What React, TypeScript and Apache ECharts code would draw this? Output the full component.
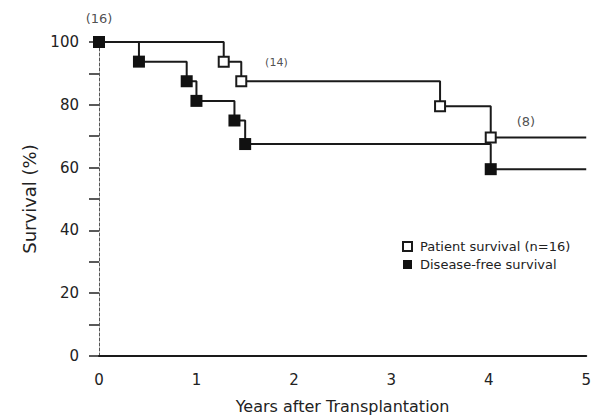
import React, { useEffect, useRef } from "react";
import * as echarts from "echarts";

// Kaplan-Meier step data (years, survival %)
const patientTimes = [0, 1.28, 1.46, 3.5, 4.02, 5];
const patientSurvival = [100, 93.75, 87.5, 79.5, 69.6, 69.6];

const dfsTimes = [0, 0.41, 0.9, 1.0, 1.39, 1.5, 4.02, 5];
const dfsSurvival = [100, 93.75, 87.5, 81.25, 75, 67.5, 59.5, 59.5];

// numbers at risk annotations
const atRiskLabels = ["(16)", "(14)", "(8)"];
const atRiskTimes = [0, 1.8, 4.35];
const atRiskValues = [100, 93.75, 69.6];

const xTicks = [0, 1, 2, 3, 4, 5];
const yLabelValues = [0, 20, 40, 60, 80, 100];

const patientName = "Patient survival (n=16)";
const dfsName = "Disease-free survival";

export default function App() {
  const ref = useRef<HTMLDivElement>(null);
  useEffect(() => {
    if (!ref.current) return;
    const chart = echarts.init(ref.current, null, { renderer: "svg" });
    const font = "'DejaVu Sans', Verdana, sans-serif";
    const pLine = patientTimes.map((t, i) => [t, patientSurvival[i]]);
    const dLine = dfsTimes.map((t, i) => [t, dfsSurvival[i]]);
    const pMarks = pLine.slice(1, -1);
    const dMarks = dLine.slice(0, -1);
    const riskOffsets = [[0, -24], [2, 1], [3, -16]];
    const riskSizes = [13, 11, 13];
    chart.setOption({
      animation: false,
      backgroundColor: "#fff",
      grid: { left: 99, right: 6, top: 42, bottom: 60, containLabel: false },
      legend: {
        orient: "vertical",
        left: 397,
        top: 235,
        itemWidth: 9,
        itemHeight: 9,
        itemGap: 5,
        data: [
          { name: patientName, icon: "emptyRect" },
          { name: dfsName, icon: "rect" },
        ],
        textStyle: { fontFamily: font, fontSize: 13, color: "#222", padding: [0, 0, 0, 3] },
      },
      xAxis: {
        type: "value",
        min: 0,
        max: 5,
        interval: 1,
        name: "Years after Transplantation",
        nameLocation: "middle",
        nameGap: 42,
        nameTextStyle: { fontFamily: font, fontSize: 16, color: "#222" },
        axisLine: { show: true, onZero: false, lineStyle: { color: "#1a1a1a", width: 2 } },
        axisTick: { show: false },
        splitLine: { show: false },
        axisLabel: {
          margin: 16,
          fontFamily: font,
          fontSize: 15,
          color: "#222",
          formatter: (v: number) => (xTicks.includes(v) ? String(v) : ""),
        },
      },
      yAxis: {
        type: "value",
        min: 0,
        max: 100,
        interval: 10,
        name: "Survival (%)",
        nameLocation: "middle",
        nameGap: 61,
        nameTextStyle: { fontFamily: font, fontSize: 18, color: "#222" },
        axisLine: { show: true, lineStyle: { color: "#555", width: 1, type: [3, 2] } },
        axisTick: { show: true, length: 10, lineStyle: { color: "#222", width: 1.5 } },
        splitLine: { show: false },
        axisLabel: {
          margin: 20,
          fontFamily: font,
          fontSize: 15,
          color: "#222",
          formatter: (v: number) => (yLabelValues.includes(v) ? String(v) : ""),
        },
      },
      series: [
        {
          name: "patientLine",
          type: "line",
          step: "end",
          data: pLine,
          showSymbol: false,
          symbol: "none",
          lineStyle: { color: "#1a1a1a", width: 2 },
          z: 2,
        },
        {
          name: "dfsLine",
          type: "line",
          step: "end",
          data: dLine,
          showSymbol: false,
          symbol: "none",
          lineStyle: { color: "#1a1a1a", width: 2 },
          z: 2,
        },
        {
          name: patientName,
          type: "scatter",
          data: pMarks,
          symbol: "emptyRect",
          symbolSize: 10,
          itemStyle: { color: "#1a1a1a", borderWidth: 1.5, opacity: 1 },
          z: 3,
        },
        {
          name: dfsName,
          type: "scatter",
          data: dMarks,
          symbol: "rect",
          symbolSize: 12,
          itemStyle: { color: "#111", opacity: 1 },
          z: 4,
        },
        {
          name: "atRisk",
          type: "scatter",
          clip: false,
          symbolSize: 0,
          silent: true,
          itemStyle: { color: "#222" },
          label: { show: true, color: "#222", fontFamily: font, position: "inside" },
          data: atRiskTimes.map((t, i) => ({
            value: [t, atRiskValues[i]],
            label: {
              show: true,
              formatter: atRiskLabels[i],
              position: "inside",
              offset: riskOffsets[i],
              fontFamily: font,
              fontSize: riskSizes[i],
              color: "#222",
            },
          })),
          z: 5,
        },
      ],
    });
    return () => chart.dispose();
  }, []);
  return (
    <div
      ref={ref}
      style={{ position: "absolute", left: 0, top: 0, width: 594, height: 419, overflow: "hidden" }}
    />
  );
}
